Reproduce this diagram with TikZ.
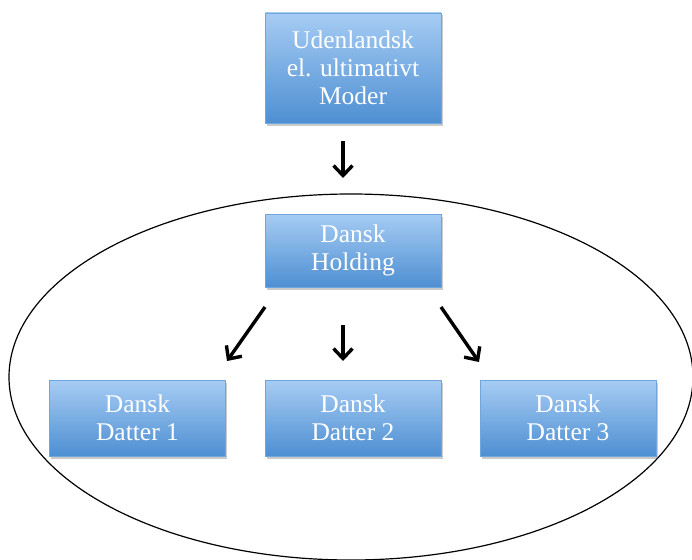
\documentclass[tikz,border=0pt]{standalone}
\usepackage{fontspec}
\setmainfont{Liberation Serif}
\usetikzlibrary{arrows.meta,shadows,calc,shapes.geometric}
\definecolor{boxtop}{HTML}{A6CCF4}
\definecolor{boxbot}{HTML}{4E8FD2}
\definecolor{boxedge}{HTML}{6FA6DE}
\tikzset{
  unit/.style={draw=boxedge, line width=0.8pt, top color=boxtop, bottom color=boxbot,
    minimum width=176pt, inner sep=0pt, align=center, text=white,
    font=\fontsize{25.5}{28}\selectfont,
    drop shadow={shadow xshift=1.5pt, shadow yshift=-2.5pt, opacity=0.35, fill=black!60}},
  link/.style={line width=3.4pt, -{Straight Barb[length=10pt,width=19pt,line width=3.4pt]}},
  group/.style={draw=black, line width=1.2pt}
}
\begin{document}
\begin{tikzpicture}[x=1pt, y=-1pt]
  \useasboundingbox (0,0) rectangle (692,559);
  % enclosing group
  \node[group, ellipse, minimum width=684pt, minimum height=366pt] (grp) at (351,377) {};
  % boxes
  \node[unit, minimum height=110pt] (moder) at (353,68) {Udenlandsk\\el. ultimativt\\Moder};
  \node[unit, minimum height=73pt] (hold) at (353,250.5) {Dansk\\Holding};
  \node[unit, minimum height=76pt] (d1) at (137.5,418) {Dansk\\Datter 1};
  \node[unit, minimum height=76pt] (d2) at (353,418) {Dansk\\Datter 2};
  \node[unit, minimum height=76pt] (d3) at (568,418) {Dansk\\Datter 3};
  % arrow ends
  \coordinate (a0s) at (343,141);
  \coordinate (a0e) at (343,178);
  \coordinate (a1s) at (265,307);
  \coordinate (a1e) at (227,361);
  \coordinate (a2s) at (343,325);
  \coordinate (a2e) at (343,361);
  \coordinate (a3s) at (441,307);
  \coordinate (a3e) at (479,362);
  \draw[link] (a0s) -- (a0e);
  \draw[link] (a1s) -- (a1e);
  \draw[link] (a2s) -- (a2e);
  \draw[link] (a3s) -- (a3e);
\end{tikzpicture}
\end{document}
